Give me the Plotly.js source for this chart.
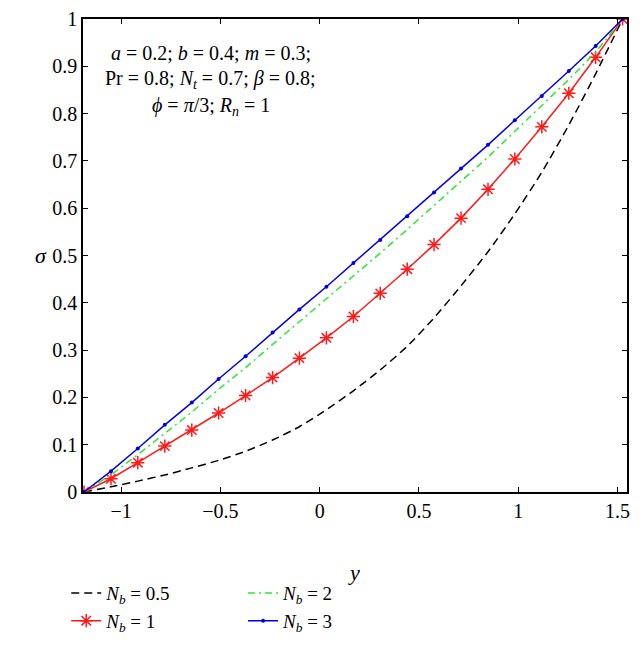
<!DOCTYPE html>
<html>
<head>
<meta charset="utf-8">
<script src="https://cdn.plot.ly/plotly-3.0.1.min.js"></script>
<style>
  html, body { margin: 0; padding: 0; background: #fff; }
  #chart { width: 643px; height: 648px; }
</style>
</head>
<body>
<div id="chart"></div>
<script>
// y positions across the channel (same grid for every curve)
const yGrid = [-1.187, -1.051, -0.916, -0.780, -0.644, -0.509, -0.373, -0.237, -0.102, 0.034,
    0.170, 0.305, 0.441, 0.576, 0.712, 0.848, 0.983, 1.119, 1.255, 1.390, 1.526];

// sigma for each Nb
const sigmaNb05 = [0, 0.011, 0.023, 0.036, 0.051, 0.067, 0.086, 0.110, 0.138, 0.174,
    0.214, 0.258, 0.308, 0.368, 0.436, 0.508, 0.588, 0.676, 0.776, 0.884, 1];
const sigmaNb1 = [0, 0.028, 0.062, 0.097, 0.131, 0.167, 0.204, 0.242, 0.283, 0.326,
    0.371, 0.420, 0.471, 0.523, 0.579, 0.640, 0.704, 0.772, 0.843, 0.919, 1];
const sigmaNb2 = [0, 0.036, 0.079, 0.125, 0.169, 0.217, 0.263, 0.312, 0.360, 0.407,
    0.456, 0.505, 0.555, 0.605, 0.657, 0.708, 0.762, 0.816, 0.872, 0.930, 1];
const sigmaNb3 = [0, 0.044, 0.092, 0.142, 0.189, 0.239, 0.287, 0.337, 0.386, 0.434,
    0.484, 0.533, 0.583, 0.633, 0.684, 0.734, 0.786, 0.837, 0.890, 0.943, 1];

const xTicks = [-1, -0.5, 0, 0.5, 1, 1.5];
const yTicks = [0, 0.1, 0.2, 0.3, 0.4, 0.5, 0.6, 0.7, 0.8, 0.9, 1];

const serif = "'Liberation Serif', 'DejaVu Serif', serif";
const nb = v => '<i>N</i><sub><i>b</i></sub> = ' + v;

const traceNb05 = {
    x: yGrid, y: sigmaNb05, name: nb('0.5'), type: 'scatter', mode: 'lines',
    line: {color: '#000000', width: 1.5, dash: '8px,5px', shape: 'spline', smoothing: 0.6},
    legend: 'legend'
};
const traceNb1 = {
    x: yGrid, y: sigmaNb1, name: nb('1'), type: 'scatter', mode: 'lines+markers',
    line: {color: '#ff1a1a', width: 1.5},
    marker: {symbol: 'asterisk-open', size: 11, color: '#ff1a1a', line: {color: '#ff1a1a', width: 1.5}},
    legend: 'legend'
};
const traceNb2 = {
    x: yGrid, y: sigmaNb2, name: nb('2'), type: 'scatter', mode: 'lines',
    line: {color: '#2ee62e', width: 1.5, dash: '7px,4px,2px,4px'},
    legend: 'legend2'
};
const traceNb3 = {
    x: yGrid, y: sigmaNb3, name: nb('3'), type: 'scatter', mode: 'lines+markers',
    line: {color: '#0000e6', width: 1.5},
    marker: {symbol: 'circle', size: 4, color: '#0000e6'},
    legend: 'legend2'
};

const params = [
    '<i>a</i> = 0.2; <i>b</i> = 0.4; <i>m</i> = 0.3;',
    'Pr = 0.8; <i>N</i><sub><i>t</i></sub> = 0.7; <i>β</i> = 0.8;',
    '<i>ϕ</i> = <i>π</i>/3; <i>R</i><sub><i>n</i></sub> = 1'
];
const paramY = [0.928, 0.872, 0.816];

const axisStyle = {
    showgrid: false, zeroline: false,
    showline: true, linecolor: '#000', linewidth: 1.5, mirror: 'ticks',
    ticks: 'inside', ticklen: 5, tickcolor: '#000', tickwidth: 1.2,
    tickfont: {family: serif, size: 20, color: '#000'}
};

const legendStyle = {
    xref: 'container', yref: 'container', y: 0.114, xanchor: 'left', yanchor: 'top',
    bgcolor: 'rgba(0,0,0,0)', font: {family: serif, size: 19}, tracegroupgap: 0
};

const layout = {
    width: 643, height: 648,
    margin: {l: 83, r: 16, t: 19, b: 156, autoexpand: false},
    paper_bgcolor: '#fff', plot_bgcolor: '#fff',
    font: {family: serif, color: '#000'},
    showlegend: true,
    xaxis: Object.assign({}, axisStyle, {
        range: [-1.192, 1.548], tickvals: xTicks,
        title: {text: '<i>y</i>', font: {family: serif, size: 22}, standoff: 44}
    }),
    yaxis: Object.assign({}, axisStyle, {
        range: [0, 1], tickvals: yTicks
    }),
    legend: Object.assign({}, legendStyle, {x: 0.103}),
    legend2: Object.assign({}, legendStyle, {x: 0.378}),
    annotations: params.map((t, i) => ({
        text: t, xref: 'paper', yref: 'paper', x: 0.235, y: paramY[i],
        xanchor: 'center', yanchor: 'middle',
        showarrow: false, font: {family: serif, size: 20}
    })).concat([{
        text: '<i>σ</i>', xref: 'paper', yref: 'paper', x: -0.078, y: 0.5,
        xanchor: 'center', yanchor: 'middle', showarrow: false, font: {family: serif, size: 22}
    }])
};

Plotly.newPlot('chart', [traceNb05, traceNb1, traceNb2, traceNb3], layout, {displayModeBar: false});
</script>
</body>
</html>
